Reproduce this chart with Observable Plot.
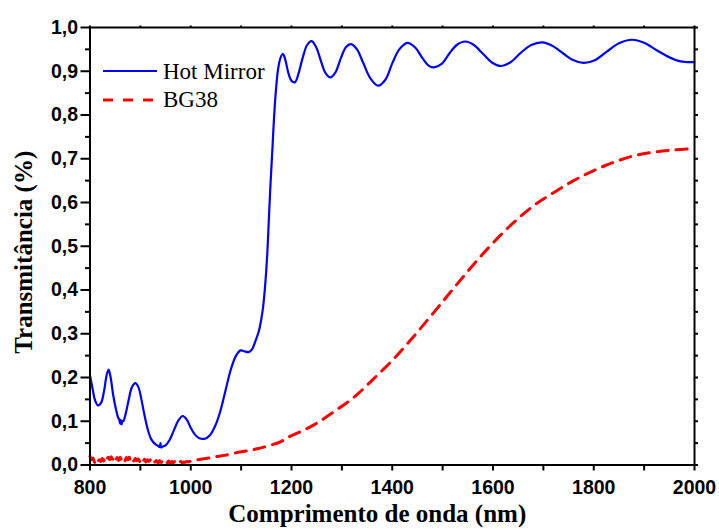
<!DOCTYPE html>
<html>
<head>
<meta charset="utf-8">
<script src="https://cdn.jsdelivr.net/npm/d3@7"></script>
<script src="https://cdn.jsdelivr.net/npm/@observablehq/plot@0.6"></script>
<style>
  html, body { margin: 0; padding: 0; background: #fff; }
  #chart { width: 719px; height: 530px; }
  #chart svg g.ticklab text { font-family: "Liberation Sans", Arial, sans-serif; font-weight: 700; font-size: 19.5px; }
  #chart svg g.legend text { font-family: "Liberation Serif", "Times New Roman", serif; font-weight: 400; font-size: 23px; }
</style>
</head>
<body>
<div id="chart"></div>
<script>
// ---- Data ----
const seriesNames = ["Hot Mirror", "BG38"];

const hotMirrorNm = [800,805,810,816,822,828,833,837,841,846,852,856,858,860,861,863,864,866,871,877,883,890,896,902,908,915,922,930,936,938,940,941,944,950,958,966,975,984,992,1000,1008,1016,1028,1038,1048,1058,1069,1080,1090,1099,1106,1115,1122,1128,1135,1140,1144,1148,1152,1155,1158,1162,1165,1169,1173,1178,1183,1188,1194,1200,1207,1214,1222,1231,1240,1249,1258,1267,1277,1287,1298,1308,1318,1330,1342,1356,1372,1386,1400,1414,1430,1445,1460,1472,1483,1498,1513,1528,1545,1562,1580,1598,1615,1634,1655,1676,1698,1718,1740,1760,1780,1802,1826,1850,1876,1900,1925,1950,1970,1985,2000];
const hotMirrorT = [0.205,0.175,0.148,0.136,0.142,0.170,0.205,0.218,0.200,0.160,0.125,0.108,0.104,0.094,0.103,0.093,0.101,0.100,0.118,0.150,0.177,0.187,0.178,0.150,0.115,0.080,0.058,0.047,0.043,0.041,0.050,0.040,0.042,0.045,0.057,0.078,0.101,0.112,0.104,0.085,0.070,0.062,0.060,0.068,0.088,0.120,0.170,0.220,0.250,0.262,0.260,0.258,0.265,0.282,0.305,0.333,0.365,0.415,0.485,0.560,0.635,0.720,0.787,0.855,0.902,0.930,0.940,0.925,0.895,0.878,0.875,0.895,0.930,0.960,0.969,0.955,0.925,0.897,0.886,0.897,0.930,0.955,0.962,0.950,0.920,0.885,0.867,0.880,0.918,0.950,0.965,0.955,0.930,0.913,0.909,0.917,0.940,0.960,0.968,0.960,0.940,0.920,0.912,0.920,0.942,0.960,0.966,0.958,0.940,0.925,0.919,0.925,0.945,0.964,0.972,0.965,0.948,0.932,0.923,0.921,0.921];

const bg38Nm = [800,803,806,809,812,815,818,821,824,827,830,833,836,839,842,845,848,851,854,857,860,863,866,869,872,875,878,881,884,887,890,893,896,899,902,905,908,911,914,917,920,923,926,929,932,935,938,941,944,947,950,953,956,959,962,965,968,971,974,977,980,983,986,989,992,995,998,1010,1030,1050,1066,1090,1110,1132,1155,1178,1198,1223,1248,1287,1324,1363,1400,1436,1469,1502,1532,1565,1598,1638,1681,1721,1760,1800,1840,1880,1919,1959,2000];
const bg38T = [0.020,0.012,0.016,0.006,0.010,0.004,0.012,0.008,0.015,0.009,0.017,0.011,0.018,0.012,0.019,0.013,0.020,0.012,0.017,0.010,0.018,0.011,0.016,0.009,0.017,0.012,0.018,0.010,0.016,0.009,0.015,0.010,0.014,0.008,0.014,0.008,0.013,0.007,0.012,0.008,0.012,0.006,0.011,0.007,0.010,0.005,0.010,0.006,0.009,0.004,0.008,0.005,0.009,0.004,0.008,0.005,0.008,0.004,0.007,0.005,0.008,0.005,0.007,0.006,0.008,0.007,0.008,0.011,0.015,0.019,0.022,0.028,0.032,0.037,0.044,0.053,0.066,0.079,0.094,0.124,0.155,0.197,0.239,0.285,0.330,0.376,0.418,0.463,0.505,0.551,0.593,0.623,0.650,0.673,0.692,0.707,0.715,0.720,0.723];

const xTicks = [800,1000,1200,1400,1600,1800,2000];
const xMinorTicks = [900,1100,1300,1500,1700,1900];
const yTicks = [0,0.1,0.2,0.3,0.4,0.5,0.6,0.7,0.8,0.9,1.0];
const yMinorTicks = [0.05,0.15,0.25,0.35,0.45,0.55,0.65,0.75,0.85,0.95];
const xTitle = "Comprimento de onda (nm)";
const yTitle = "Transmitância (%)";

// ---- Build tables ----
const hotMirror = hotMirrorNm.map((x, i) => ({x, y: hotMirrorT[i]}));
const bg38 = bg38Nm.map((x, i) => ({x, y: bg38T[i]}));
const fmtY = d => d.toFixed(1).replace(".", ",");
const none = () => "";
const SANS = "Liberation Sans";
const SERIF = "Liberation Serif";

const svg = Plot.plot({
  width: 719,
  height: 530,
  marginLeft: 89.5,
  marginRight: 25,
  marginTop: 27,
  marginBottom: 65.5,
  style: {background: "#fff", color: "#000"},
  x: {domain: [800, 2000]},
  y: {domain: [0, 1]},
  marks: [
    Plot.line(bg38, {x: "x", y: "y", stroke: "#ff0000", strokeWidth: 3, strokeDasharray: "11,8", curve: "catmull-rom"}),
    Plot.line(hotMirror, {x: "x", y: "y", stroke: "#0000ff", strokeWidth: 2.2, curve: "catmull-rom"}),
    Plot.frame({stroke: "#000", strokeWidth: 2}),
    Plot.axisY(yTicks, {anchor: "left", tickSize: 9, tickPadding: 3, tickFormat: fmtY, strokeWidth: 2, fontSize: 19.5, fontWeight: "bold", fontFamily: SANS, label: null}),
    Plot.axisY(yMinorTicks, {anchor: "left", tickSize: 4.5, tickFormat: none, strokeWidth: 2, label: null}),
    Plot.axisY(yTicks.concat(yMinorTicks), {anchor: "right", tickSize: 3, tickFormat: none, strokeWidth: 2, label: null}),
    Plot.axisX(xTicks, {anchor: "bottom", tickSize: 6, tickPadding: 9, tickFormat: d => String(d), strokeWidth: 2, fontSize: 19.5, fontWeight: "bold", fontFamily: SANS, label: null}),
    Plot.axisX(xMinorTicks, {anchor: "bottom", tickSize: 6, tickFormat: none, strokeWidth: 2, label: null}),
    Plot.axisX(xTicks.concat(xMinorTicks), {anchor: "top", tickSize: 2.5, tickFormat: none, strokeWidth: 2, label: null}),
    Plot.text([xTitle], {frameAnchor: "bottom", lineAnchor: "middle", textAnchor: "middle", dx: -15, dy: 49, fontSize: 25, fontWeight: "bold", fontFamily: SERIF, fill: "#000"}),
    Plot.text([yTitle], {frameAnchor: "left", lineAnchor: "middle", textAnchor: "middle", rotate: -90, dx: -66, dy: 6, fontSize: 25, fontWeight: "bold", fontFamily: SERIF, fill: "#000"})
  ]
});

// tick-label groups: bold sans
d3.select(svg).selectAll('g[aria-label$="tick label"]').classed("ticklab", true);

// ---- Legend (inside the plot, top-left) ----
const lg = d3.select(svg).append("g").attr("class", "legend").attr("text-anchor", "start")
  .attr("font-family", SERIF).attr("font-size", 23).attr("font-weight", "normal");
lg.append("line").attr("x1", 103).attr("x2", 157).attr("y1", 71).attr("y2", 71)
  .attr("stroke", "#0000ff").attr("stroke-width", 2.2);
lg.append("text").attr("x", 163).attr("y", 78.5).text(seriesNames[0]);
lg.append("line").attr("x1", 103).attr("x2", 157).attr("y1", 100).attr("y2", 100)
  .attr("stroke", "#ff0000").attr("stroke-width", 3).attr("stroke-dasharray", "10,10");
lg.append("text").attr("x", 163).attr("y", 107).text(seriesNames[1]);

document.getElementById("chart").appendChild(svg);
</script>
</body>
</html>
